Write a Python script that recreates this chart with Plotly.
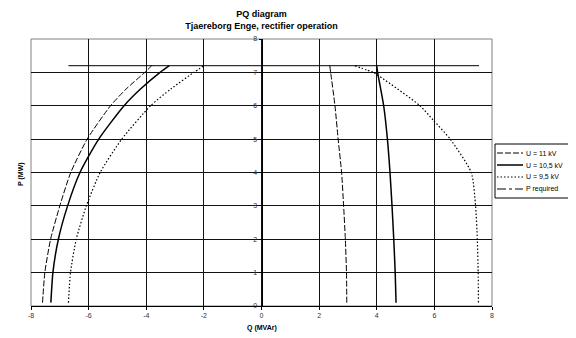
import plotly.graph_objects as go

# ---- data (Q in MVAr, P in MW) ----
P_left = [0.1, 1, 2, 3, 4, 5, 6, 6.5, 7, 7.2]
Q_left_11kV = [-7.6, -7.52, -7.32, -7.0, -6.62, -6.05, -5.24, -4.7, -4.05, -3.81]
Q_left_10_5kV = [-7.31, -7.24, -7.05, -6.73, -6.3, -5.65, -4.77, -4.2, -3.52, -3.2]
Q_left_9_5kV = [-6.7, -6.63, -6.43, -6.08, -5.6, -4.85, -3.85, -3.15, -2.35, -2.0]

P_right = [7.2, 7, 6, 5, 4, 3, 2, 1, 0.1]
Q_right_11kV = [2.37, 2.4, 2.55, 2.66, 2.78, 2.85, 2.91, 2.95, 2.96]
Q_right_10_5kV = [4.0, 4.03, 4.24, 4.37, 4.46, 4.53, 4.59, 4.64, 4.67]

P_right_9_5kV = [7.2, 7.07, 7, 6, 5.57, 5, 4, 3, 2, 1, 0.1]
Q_right_9_5kV = [3.24, 3.65, 3.88, 5.5, 5.96, 6.55, 7.28, 7.43, 7.49, 7.52, 7.53]

Q_required = [-6.7, 7.55]
P_required = [7.2, 7.2]

x_ticks = [-8, -6, -4, -2, 0, 2, 4, 6, 8]
y_ticks = [0, 1, 2, 3, 4, 5, 6, 7, 8]

legend_names = ["U = 11 kV", "U = 10,5 kV", "U = 9,5 kV", "P required"]

FONT = "Arial, Liberation Sans, sans-serif"

# page has an 8px body margin: figure is placed at (8, 8)
OFF = 8
W, H = 576 - OFF, 338 - OFF
PL, PR, PT, PB = 31, 492, 39, 306          # plot area in page pixels


def px(x):
    return (x - PL) / (PR - PL)


def py(y):
    return (PB - y) / (PB - PT)


styles = {
    "U = 11 kV": dict(color="black", width=1, dash="6px,2px"),
    "U = 10,5 kV": dict(color="black", width=1.5),
    "U = 9,5 kV": dict(color="black", width=1.2, dash="1.5px,2px"),
    "P required": dict(color="black", width=1, dash="dashdot"),
}

fig = go.Figure()

series = [
    ("U = 11 kV", Q_left_11kV, P_left, Q_right_11kV, P_right),
    ("U = 10,5 kV", Q_left_10_5kV, P_left, Q_right_10_5kV, P_right),
    ("U = 9,5 kV", Q_left_9_5kV, P_left, Q_right_9_5kV, P_right_9_5kV),
]
for name, ql, pl, qr, pr in series:
    for q, p in ((ql, pl), (qr, pr)):
        fig.add_trace(go.Scatter(x=q, y=p, mode="lines", name=name, showlegend=False,
                                 line=dict(shape="spline", smoothing=0.6, **styles[name])))

fig.add_trace(go.Scatter(x=Q_required, y=P_required, mode="lines", name="P required",
                         showlegend=False, line=dict(color="black", width=1)))

# ---- hand-made legend box (Excel style, compact rows) ----
LX0, LX1, LY0, LY1 = 495, 569, 144, 198
rows_y = [153, 165, 177, 189]
shapes = [dict(type="rect", xref="paper", yref="paper", x0=0, x1=1, y0=0, y1=1,
               line=dict(color="#808080", width=1), layer="below"),
          dict(type="rect", xref="paper", yref="paper", x0=px(LX0), x1=px(LX1),
               y0=py(LY1), y1=py(LY0), line=dict(color="black", width=1),
               fillcolor="white", layer="above")]
annotations = []
for name, ry in zip(legend_names, rows_y):
    st = dict(styles[name])
    st["width"] = min(st["width"], 1.5)
    shapes.append(dict(type="line", xref="paper", yref="paper", x0=px(497), x1=px(523),
                       y0=py(ry), y1=py(ry), line=st, layer="above"))
    annotations.append(dict(text=name, xref="paper", yref="paper", x=px(524), y=py(ry),
                            xanchor="left", yanchor="middle", showarrow=False,
                            font=dict(family=FONT, size=7, color="black")))

annotations += [
    dict(text="<b>Q (MVAr)</b>", xref="paper", yref="paper", x=0.5, y=py(328),
         xanchor="center", yanchor="middle", showarrow=False,
         font=dict(family=FONT, size=7, color="black")),
    dict(text="<b>P (MW)</b>", xref="paper", yref="paper", x=px(21), y=py(174),
         xanchor="center", yanchor="middle", showarrow=False, textangle=-90,
         font=dict(family=FONT, size=7, color="black")),
]

fig.update_layout(
    width=W, height=H,
    margin=dict(l=PL - OFF, r=W - (PR - OFF), t=PT - OFF, b=H - (PB - OFF)),
    paper_bgcolor="white", plot_bgcolor="white",
    font=dict(family=FONT, size=7, color="#222"),
    title=dict(text="<b>PQ diagram</b><br><b>Tjaereborg Enge, rectifier operation</b>",
               x=0.5, xref="paper", xanchor="center",
               y=1 - (17 - OFF) / H, yref="container", yanchor="middle",
               font=dict(family=FONT, size=9, color="black")),
    showlegend=False,
    xaxis=dict(range=[-8, 8], tickvals=x_ticks, ticktext=[str(v) for v in x_ticks],
               showgrid=True, gridcolor="#111", gridwidth=1,
               zeroline=False, showline=True, linecolor="black", linewidth=1,
               ticks="outside", ticklen=3, tickcolor="black",
               tickfont=dict(size=7, color="#333")),
    yaxis=dict(range=[0, 8], tickvals=y_ticks, ticktext=[str(v) for v in y_ticks],
               showgrid=True, gridcolor="#111", gridwidth=1,
               zeroline=False, showline=True, linecolor="black", linewidth=1,
               anchor="free", position=0.5,
               ticks="outside", ticklen=3, tickcolor="black",
               tickfont=dict(size=7, color="#333")),
    shapes=shapes,
    annotations=annotations,
)

fig.write_html("out.html")
